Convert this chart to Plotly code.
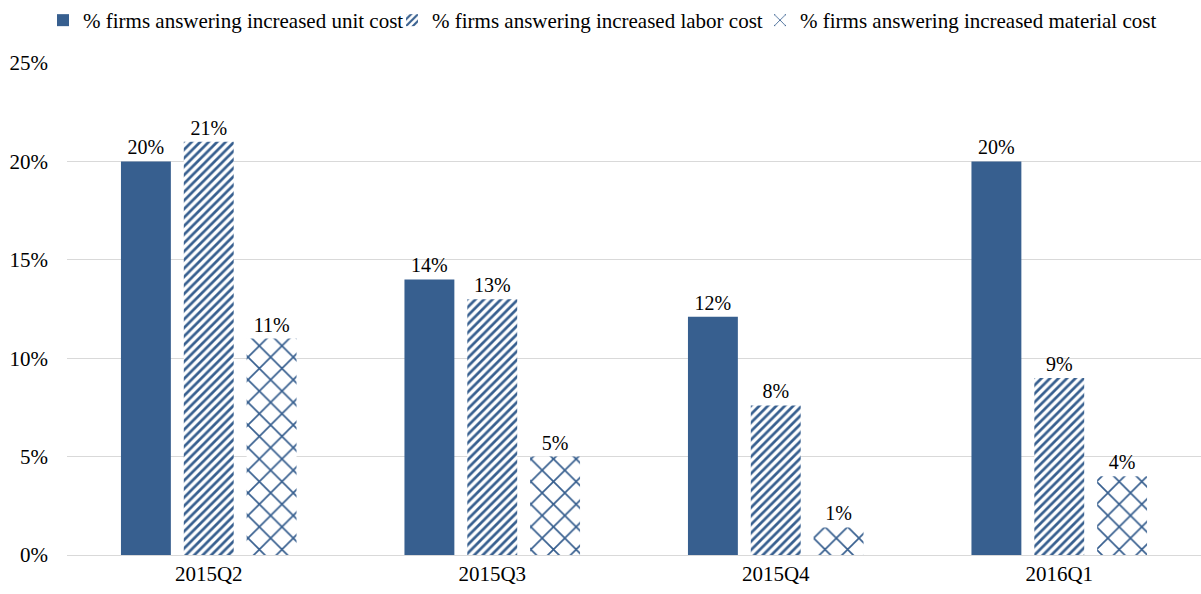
import plotly.graph_objects as go

quarters = ["2015Q2", "2015Q3", "2015Q4", "2016Q1"]
unit_cost = [0.20, 0.14, 0.121, 0.20]
labor_cost = [0.21, 0.13, 0.076, 0.09]
material_cost = [0.11, 0.05, 0.014, 0.04]

series_names = [
    "% firms answering increased unit cost",
    "% firms answering increased labor cost",
    "% firms answering increased material cost",
]

BLUE = "#375F8F"
FONT = "Liberation Serif"
W, H = 1201, 594

fig = go.Figure()

fig.add_trace(go.Bar(
    x=quarters, y=unit_cost, name=series_names[0], legend="legend",
    marker=dict(color=BLUE, line=dict(width=0)),
    texttemplate="%{y:.0%}", textposition="outside",
))
fig.add_trace(go.Bar(
    x=quarters, y=labor_cost, name=series_names[1], legend="legend2",
    marker=dict(color="white", line=dict(width=0),
                pattern=dict(shape="/", fgcolor=BLUE, bgcolor="white",
                             size=6, solidity=0.45, fillmode="replace")),
    texttemplate="%{y:.0%}", textposition="outside",
))
fig.add_trace(go.Bar(
    x=quarters, y=material_cost, name=series_names[2], legend="legend3",
    marker=dict(color="white", line=dict(width=0),
                pattern=dict(shape="x", fgcolor=BLUE, bgcolor="white",
                             size=16, solidity=0.2, fillmode="replace")),
    texttemplate="%{y:.0%}", textposition="outside",
))

fig.update_traces(textfont=dict(family=FONT, size=20, color="black"),
                  cliponaxis=False)

# one legend box per series so the entries can sit in a tight row
def legend_box(x_px):
    return dict(orientation="h", x=x_px / W, xanchor="left", xref="container",
                y=1.0, yanchor="top", yref="container",
                font=dict(family=FONT, size=21, color="black"),
                itemwidth=30, bgcolor="rgba(0,0,0,0)")

fig.update_layout(
    width=W, height=H,
    margin=dict(l=67, r=0, t=63, b=39),
    paper_bgcolor="white", plot_bgcolor="white",
    font=dict(family=FONT, size=20, color="black"),
    barmode="group", bargap=0.335, bargroupgap=0.206,
    showlegend=True,
    legend=legend_box(43),
    legend2=legend_box(392),
    legend3=legend_box(760),
    xaxis=dict(showline=True, linecolor="#D9D9D9", linewidth=1, ticks="",
               tickfont=dict(family=FONT, size=21)),
    yaxis=dict(range=[0, 0.25], dtick=0.05, tickformat=".0%",
               showgrid=True, gridcolor="#D9D9D9", gridwidth=1,
               zeroline=False, ticks="", ticklabelstandoff=18,
               tickfont=dict(family=FONT, size=21)),
)

fig.write_html("out.html")
